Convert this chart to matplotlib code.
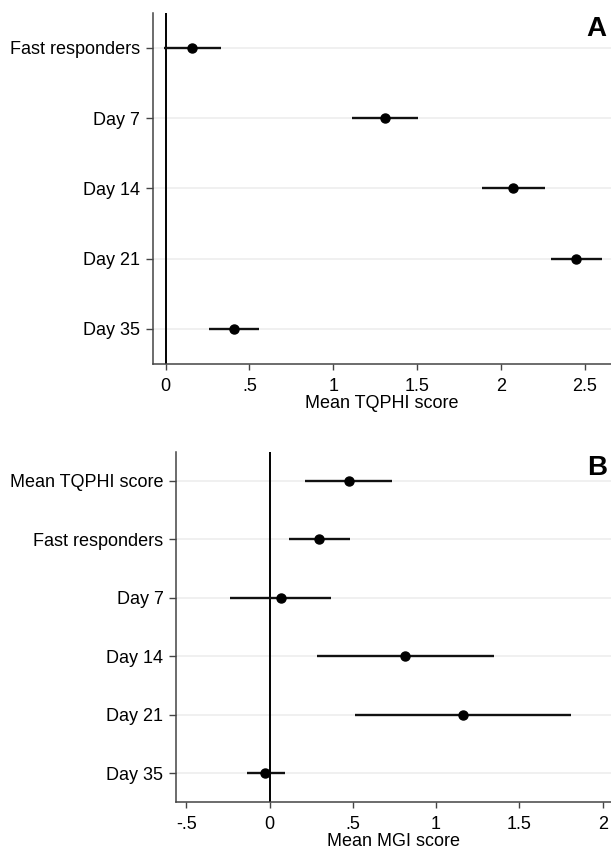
import matplotlib
matplotlib.use("Agg")
import matplotlib.pyplot as plt

plt.rcParams['font.family'] = ['Liberation Sans', 'DejaVu Sans']

# panel A: mean TQPHI score
labels_a = ["Fast responders", "Day 7", "Day 14", "Day 21", "Day 35"]
mean_a = [0.16, 1.307, 2.074, 2.447, 0.407]
lo_a = [-0.01, 1.11, 1.886, 2.298, 0.26]
hi_a = [0.33, 1.505, 2.26, 2.60, 0.556]
ticks_a = [0, 0.5, 1, 1.5, 2, 2.5]
ticklabels_a = ["0", ".5", "1", "1.5", "2", "2.5"]

# panel B: mean MGI score
labels_b = ["Mean TQPHI score", "Fast responders", "Day 7", "Day 14", "Day 21", "Day 35"]
mean_b = [0.475, 0.297, 0.068, 0.813, 1.159, -0.026]
lo_b = [0.215, 0.117, -0.237, 0.286, 0.51, -0.136]
hi_b = [0.733, 0.48, 0.37, 1.349, 1.808, 0.091]
ticks_b = [-0.5, 0, 0.5, 1, 1.5, 2]
ticklabels_b = ["-.5", "0", ".5", "1", "1.5", "2"]


def forest(ax, labels, mean, lo, hi, ticks, ticklabels, xlim, xlabel, tag):
    ys = list(range(1, len(labels) + 1))
    for y in ys:
        ax.axhline(y, color="#efefef", lw=1.3, zorder=0)
    ax.axvline(0, color="black", lw=1.4, zorder=1)
    for y, m, l, h in zip(ys, mean, lo, hi):
        ax.plot([l, h], [y, y], color="#111111", lw=1.7, zorder=2, solid_capstyle="butt")
        ax.plot(m, y, "o", color="black", ms=6.5, zorder=3)
    ax.set_ylim(len(labels) + 0.5, 0.5)
    ax.set_xlim(*xlim)
    ax.set_yticks(ys)
    ax.set_yticklabels(labels, fontsize=13)
    ax.set_xticks(ticks)
    ax.set_xticklabels(ticklabels, fontsize=13)
    ax.set_xlabel(xlabel, fontsize=13, labelpad=0)
    ax.tick_params(axis="y", length=5, width=1, color="#444444", pad=4)
    ax.tick_params(axis="x", length=4, width=1, color="#444444", pad=6)
    for s in ["top", "right"]:
        ax.spines[s].set_visible(False)
    for s in ["left", "bottom"]:
        ax.spines[s].set_color("#444444")
        ax.spines[s].set_linewidth(1.1)
    ax.text(0.99, 0.955, tag, transform=ax.transAxes, ha="right", va="center",
            fontsize=20, fontweight="bold")


fig = plt.figure(figsize=(6.11, 8.52), dpi=100)
ax_a = fig.add_axes([0.25, 0.5728, 0.75, 0.4123])
ax_b = fig.add_axes([0.288, 0.0583, 0.712, 0.4115])

forest(ax_a, labels_a, mean_a, lo_a, hi_a, ticks_a, ticklabels_a,
       (-0.077, 2.656), "Mean TQPHI score", "A")
forest(ax_b, labels_b, mean_b, lo_b, hi_b, ticks_b, ticklabels_b,
       (-0.562, 2.05), "Mean MGI score", "B")

fig.savefig("out.png", dpi=100)
